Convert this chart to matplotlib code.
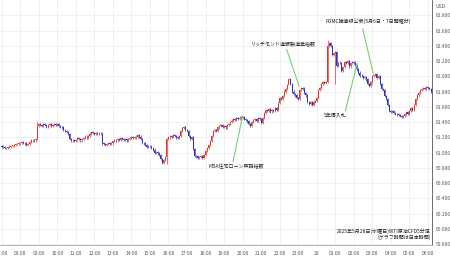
import numpy as np
import matplotlib
matplotlib.use("Agg")
import matplotlib.pyplot as plt

plt.rcParams['font.family'] = ['Noto Sans CJK JP', 'DejaVu Sans']

# 5-minute closes, one row per hour starting 07:00 JST (May 28)
closes = [
    61.08, 61.07, 61.06, 61.06, 61.07, 61.08, 61.09, 61.09, 61.10, 61.11, 61.11, 61.12,  # 07
    61.13, 61.14, 61.13, 61.12, 61.10, 61.11, 61.14, 61.16, 61.17, 61.16, 61.18, 61.35,  # 08
    61.37, 61.36, 61.35, 61.37, 61.36, 61.34, 61.36, 61.37, 61.35, 61.36, 61.38, 61.36,  # 09
    61.37, 61.35, 61.34, 61.33, 61.30, 61.28, 61.27, 61.24, 61.18, 61.16, 61.17, 61.15,  # 10
    61.17, 61.19, 61.18, 61.16, 61.18, 61.19, 61.21, 61.20, 61.22, 61.25, 61.27, 61.26,  # 11
    61.25, 61.26, 61.25, 61.24, 61.25, 61.12, 61.11, 61.10, 61.11, 61.12, 61.11, 61.12,  # 12
    61.15, 61.17, 61.16, 61.18, 61.17, 61.19, 61.18, 61.17, 61.18, 61.16, 61.18, 61.19,  # 13
    61.20, 61.19, 61.20, 61.21, 61.23, 61.21, 61.18, 61.13, 61.12, 61.10, 61.08, 61.07,  # 14
    61.08, 61.06, 61.04, 61.00, 61.01, 60.99, 60.97, 60.92, 60.87, 60.90, 60.94, 61.18,  # 15
    61.20, 61.22, 61.21, 61.23, 61.22, 61.20, 61.19, 61.22, 61.28, 61.32, 61.34, 61.30,  # 16
    61.28, 61.22, 61.18, 61.20, 61.05, 60.96, 60.95, 60.93, 60.94, 60.95, 60.93, 60.97,  # 17
    61.02, 61.06, 61.10, 61.15, 61.22, 61.28, 61.30, 61.29, 61.33, 61.35, 61.36, 61.34,  # 18
    61.35, 61.33, 61.36, 61.38, 61.40, 61.42, 61.44, 61.43, 61.45, 61.44, 61.46, 61.45,  # 19
    61.47, 61.44, 61.43, 61.41, 61.38, 61.35, 61.40, 61.43, 61.44, 61.42, 61.45, 61.44,  # 20
    61.39, 61.45, 61.52, 61.56, 61.55, 61.57, 61.54, 61.56, 61.55, 61.58, 61.56, 61.65,  # 21
    61.72, 61.70, 61.74, 61.80, 61.83, 61.88, 61.96, 61.90, 61.80, 61.77, 61.75, 61.72,  # 22
    61.70, 61.82, 61.85, 61.84, 61.78, 61.75, 61.66, 61.64, 61.66, 61.62, 61.67, 61.68,  # 23
    61.72, 61.82, 61.85, 61.90, 61.92, 61.91, 61.93, 62.40, 62.44, 62.40, 62.28, 62.30,  # 00
    62.32, 62.14, 62.18, 62.17, 62.07, 62.12, 62.19, 62.18, 62.20, 62.13, 62.17, 62.19,  # 01
    62.18, 62.15, 62.09, 62.05, 62.01, 62.00, 61.98, 61.99, 61.96, 61.90, 61.87, 61.92,  # 02
    62.00, 62.02, 62.03, 61.98, 62.00, 61.90, 61.83, 61.82, 61.74, 61.70, 61.62, 61.55,  # 03
    61.53, 61.54, 61.52, 61.51, 61.50, 61.49, 61.48, 61.47, 61.48, 61.50, 61.53, 61.51,  # 04
    61.55, 61.58, 61.56, 61.62, 61.70, 61.75, 61.78, 61.82, 61.83, 61.85, 61.84, 61.86,  # 05
    61.85, 61.83, 61.80,                                                                 # 06
]
first_open = 61.09

# a few long wicks (candle index, price reached)
spike_idx = [23, 107, 186, 199, 211, 216]
spike_val = [61.40, 60.85, 61.97, 61.62, 62.48, 61.90]

hour_labels = ["07:00", "08:00", "09:00", "10:00", "11:00", "12:00", "13:00", "14:00",
               "15:00", "16:00", "17:00", "18:00", "19:00", "20:00", "21:00", "22:00",
               "23:00", "29", "01:00", "02:00", "03:00", "04:00", "05:00", "06:00"]
price_ticks = [59.8, 60.0, 60.2, 60.4, 60.6, 60.8, 61.0, 61.2, 61.4, 61.6,
               61.8, 62.0, 62.2, 62.4, 62.6, 62.8]

# events: (text, text x, text y, line start, line end) in hours / price
events = [
    ("FOMC議事録公表(5月6日・7日開催分)", 19.75, 62.72, (19.48, 62.62), (20.05, 62.04)),
    ("リッチモンド連銀製造業指数", 15.2, 62.41, (15.38, 62.35), (16.05, 61.87)),
    ("5年債入札", 18.0, 61.48, (18.55, 61.55), (19.18, 62.17)),
    ("MBA住宅ローン申請指数", 12.65, 60.81, (12.48, 60.88), (13.0, 61.48)),
]

c = np.array(closes)
o = np.concatenate([[first_open], c[:-1]])
hi = np.maximum(o, c) + 0.015
lo = np.minimum(o, c) - 0.015
for i, v in zip(spike_idx, spike_val):
    if v > hi[i]:
        hi[i] = v
    else:
        lo[i] = v
t = np.arange(len(c)) / 12.0

fig = plt.figure(figsize=(4.5, 2.58), dpi=100)
ax = fig.add_axes([0, 1 - 245 / 258, 432 / 450, 245 / 258])

up = c >= o
col = np.where(up, "#dc3a30", "#2c30c4")
ax.vlines(t, lo, hi, colors=col, linewidth=0.5, zorder=3)
body_h = np.maximum(np.abs(c - o), 0.006)
ax.bar(t, body_h, bottom=np.minimum(o, c), width=0.055, color=col, linewidth=0, zorder=4)

for txt, tx, ty, p0, p1 in events:
    ax.plot([p0[0], p1[0]], [p0[1], p1[1]], color="#6fd66a", linewidth=0.8, zorder=5)
    ax.text(tx, ty, txt, fontsize=3.6, color="#222222", ha="center", va="center", zorder=6)

ax.text(23.15, 59.93, "2025年5月28日(水曜日)WTI原油CFD5分足\n(グラフ時間は日本時間)",
        fontsize=3.6, color="#222222", ha="right", va="center", multialignment="right",
        linespacing=1.1, zorder=6)

ax.set_xlim(-0.092, 23.22)
ax.set_ylim(59.79, 63.0)
ax.set_xticks(np.arange(len(hour_labels)))
ax.set_xticklabels(hour_labels)
ax.set_yticks(price_ticks)
ax.set_yticklabels(["%.3f" % p for p in price_ticks])
ax.yaxis.tick_right()
ax.tick_params(axis="both", length=0, labelsize=3.5, colors="#555555")
ax.tick_params(axis="x", pad=4)
ax.tick_params(axis="y", pad=3)
ax.grid(True, color="#eeeeee", linewidth=0.6)
ax.set_axisbelow(True)
for s in ["top", "left"]:
    ax.spines[s].set_visible(False)
ax.spines["right"].set_color("#555555")
ax.spines["right"].set_linewidth(0.6)
ax.spines["bottom"].set_color("#aaaaaa")
ax.spines["bottom"].set_linewidth(0.6)

fig.text(440 / 450, 1 - 6 / 258, "USD", fontsize=3.6, color="#555555", ha="center", va="center")

fig.savefig("out.png", dpi=100)
